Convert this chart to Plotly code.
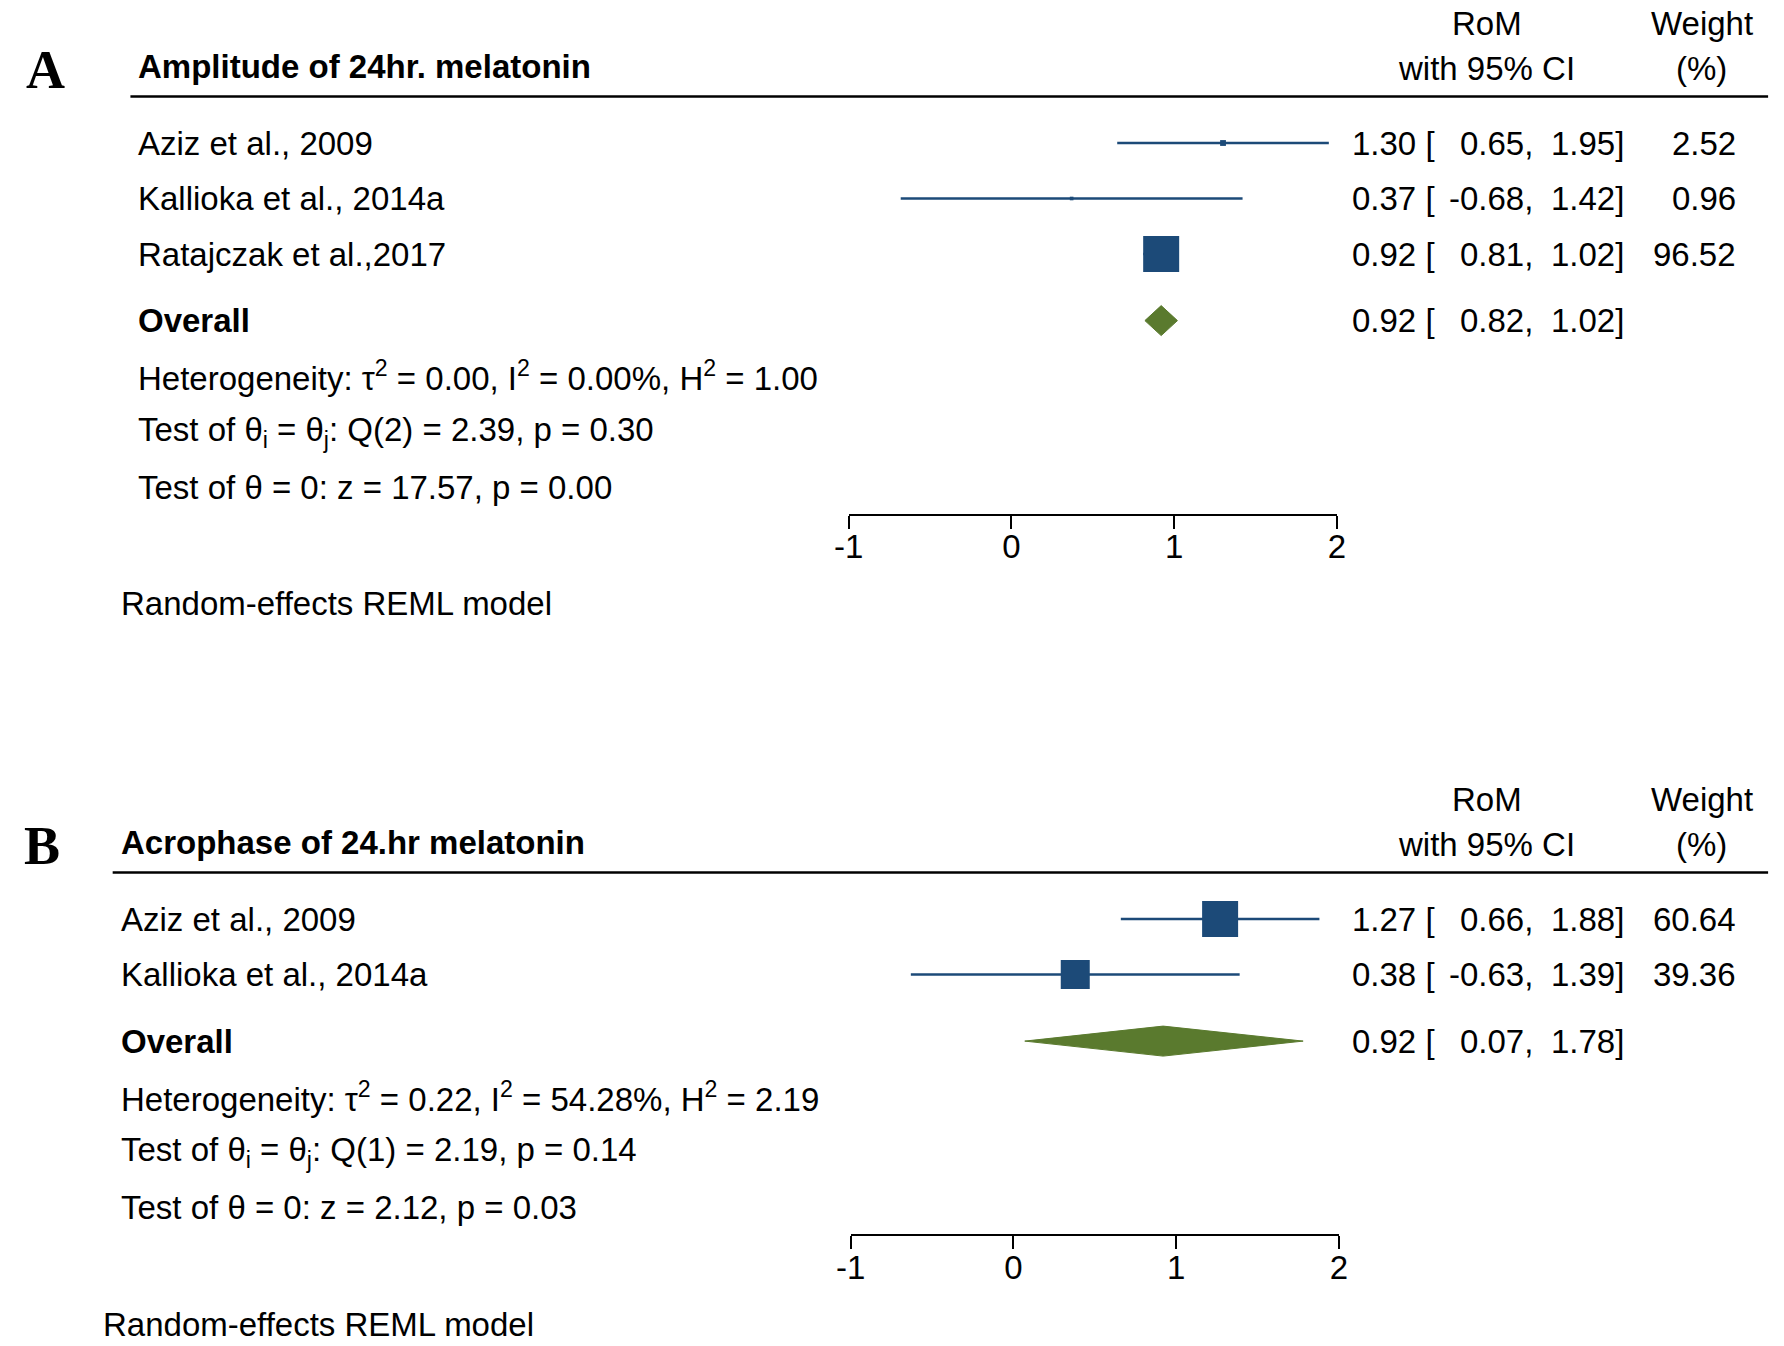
import numpy as np
import plotly.graph_objects as go

W, H = 1784, 1346
ROW_PX = 55.5            # vertical distance between rows, px
FONT = "Liberation Sans, Arial, sans-serif"
SERIF = "Liberation Serif, Times New Roman, serif"
NAVY = "#1c4a78"
GREEN = "#5a7a2e"

tick_vals = [-1, 0, 1, 2]
tick_labels = ["-1", "0", "1", "2"]

# ---- panel A : amplitude -------------------------------------------
title_a = "Amplitude of 24hr. melatonin"
studies_a = ["Aziz et al., 2009", "Kallioka et al., 2014a", "Ratajczak et al.,2017"]
rom_a = [1.30, 0.37, 0.92]
lo_a = [0.65, -0.68, 0.81]
hi_a = [1.95, 1.42, 1.02]
weight_a = [2.52, 0.96, 96.52]
overall_a = [0.92, 0.82, 1.02]
stats_a = [
    "Heterogeneity: τ<sup>2</sup> = 0.00, I<sup>2</sup> = 0.00%, H<sup>2</sup> = 1.00",
    "Test of θ<sub>i</sub> = θ<sub>j</sub>: Q(2) = 2.39, p = 0.30",
    "Test of θ = 0: z = 17.57, p = 0.00",
]

# ---- panel B : acrophase -------------------------------------------
title_b = "Acrophase of 24.hr melatonin"
studies_b = ["Aziz et al., 2009", "Kallioka et al., 2014a"]
rom_b = [1.27, 0.38]
lo_b = [0.66, -0.63]
hi_b = [1.88, 1.39]
weight_b = [60.64, 39.36]
overall_b = [0.92, 0.07, 1.78]
stats_b = [
    "Heterogeneity: τ<sup>2</sup> = 0.22, I<sup>2</sup> = 54.28%, H<sup>2</sup> = 2.19",
    "Test of θ<sub>i</sub> = θ<sub>j</sub>: Q(1) = 2.19, p = 0.14",
    "Test of θ = 0: z = 2.12, p = 0.03",
]

model_note = "Random-effects REML model"

panels = [
    dict(letter="A", title=title_a, studies=studies_a, rom=rom_a, lo=lo_a, hi=hi_a,
         w=weight_a, ov=overall_a, stats=stats_a,
         first_px=143, left=123, shift=18, letter_x=9, ax_px=(845, 1340)),
    dict(letter="B", title=title_b, studies=studies_b, rom=rom_b, lo=lo_b, hi=hi_b,
         w=weight_b, ov=overall_b, stats=stats_b,
         first_px=919, left=105, shift=18, letter_x=7, ax_px=(847, 1342)),
]

fig = go.Figure()
annos, shapes = [], []


def txt(s, x, y, yref, anchor="left", size=33, bold=False, family=FONT):
    if bold:
        s = f"<b>{s}</b>"
    annos.append(dict(text=s, x=x / W, xref="paper", y=y, yref=yref,
                      xanchor=anchor, yanchor="middle", showarrow=False,
                      font=dict(family=family, size=size, color="black")))


for k, p in enumerate(panels):
    sfx = "" if k == 0 else str(k + 1)
    xa, ya = "x" + sfx, "y" + sfx
    n = len(p["studies"])
    rows = list(range(1, n + 1))
    r_ov = n + 1.2
    r_stats = [r_ov + 1 + i for i in range(len(p["stats"]))]
    r_axis = r_stats[-1] + 0.5
    r_note = r_stats[-1] + 2.1

    # CI lines
    cx, cy = [], []
    for r, a, b in zip(rows, p["lo"], p["hi"]):
        cx += [a, b, None]
        cy += [r, r, None]
    fig.add_trace(go.Scatter(x=cx, y=cy, mode="lines", xaxis=xa, yaxis=ya,
                             line=dict(color=NAVY, width=2.4), hoverinfo="skip",
                             showlegend=False))
    # weighted squares (area ~ weight)
    wmax = max(p["w"])
    sizes = [36 * np.sqrt(w / wmax) for w in p["w"]]
    fig.add_trace(go.Scatter(x=p["rom"], y=rows, mode="markers", xaxis=xa, yaxis=ya,
                             marker=dict(symbol="square", size=sizes, color=NAVY,
                                         opacity=1, line=dict(width=0)),
                             showlegend=False))
    # overall diamond
    ov_est, ov_lo, ov_hi = p["ov"]
    hh = 15 / ROW_PX
    fig.add_trace(go.Scatter(x=[ov_lo, ov_est, ov_hi, ov_est, ov_lo],
                             y=[r_ov, r_ov - hh, r_ov, r_ov + hh, r_ov],
                             mode="lines", fill="toself", fillcolor=GREEN,
                             line=dict(color=GREEN, width=1), xaxis=xa, yaxis=ya,
                             showlegend=False))

    # axes
    top = 1 - p["first_px"] / ROW_PX
    bottom = 1 + (H - p["first_px"]) / ROW_PX
    axis_px = p["first_px"] + (r_axis - 1) * ROW_PX
    fig.update_layout(**{
        "xaxis" + sfx: dict(domain=[p["ax_px"][0] / W, p["ax_px"][1] / W], range=[-1, 2],
                            anchor="free", position=1 - axis_px / H,
                            showline=True, linecolor="black", linewidth=2,
                            ticks="outside", ticklen=13, tickwidth=2, tickcolor="black",
                            tickvals=tick_vals, ticktext=tick_labels, ticklabelstandoff=-10,
                            tickfont=dict(family=FONT, size=33, color="black"),
                            showgrid=False, zeroline=False, fixedrange=True),
        "yaxis" + sfx: dict(domain=[0, 1], range=[bottom, top], visible=False,
                            anchor=xa, fixedrange=True),
    })

    left = p["left"]
    txt(p["letter"], p["letter_x"], -0.31, ya, size=54, bold=True, family=SERIF)
    txt(p["title"], left, -0.37, ya, bold=True)
    shapes.append(dict(type="line", xref="paper", yref=ya, x0=(left - 6) / W, x1=1777 / W,
                       y0=0.16, y1=0.16, line=dict(color="black", width=2.5)))
    txt("RoM", 1492, -1.16, ya, anchor="center")
    txt("with 95% CI", 1492, -0.34, ya, anchor="center")
    txt("Weight", 1710, -1.16, ya, anchor="center")
    txt("(%)", 1710, -0.34, ya, anchor="center")

    for r, name, e, a, b, w in zip(rows, p["studies"], p["rom"], p["lo"], p["hi"], p["w"]):
        txt(name, left, r, ya)
        txt(f"{e:.2f} [", 1353, r, ya)
        txt(f"{a:.2f},", 1541, r, ya, anchor="right")
        txt(f"{b:.2f}]", 1633, r, ya, anchor="right")
        txt(f"{w:.2f}", 1747, r, ya, anchor="right")

    txt("Overall", left, r_ov, ya, bold=True)
    txt(f"{ov_est:.2f} [", 1353, r_ov, ya)
    txt(f"{ov_lo:.2f},", 1541, r_ov, ya, anchor="right")
    txt(f"{ov_hi:.2f}]", 1633, r_ov, ya, anchor="right")
    for r, s in zip(r_stats, p["stats"]):
        txt(s, left, r, ya)
    txt(model_note, left - p["shift"], r_note, ya)

fig.update_layout(width=W, height=H, margin=dict(l=0, r=0, t=0, b=0),
                  paper_bgcolor="white", plot_bgcolor="rgba(0,0,0,0)",
                  annotations=annos, shapes=shapes, showlegend=False)

fig.write_html("out.html", config={"displayModeBar": False},
               post_script="document.body.style.margin='0';document.body.style.overflow='hidden';")
